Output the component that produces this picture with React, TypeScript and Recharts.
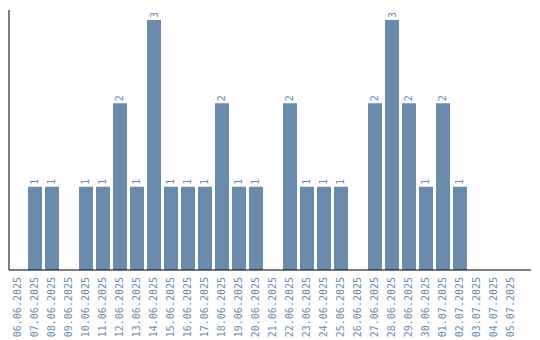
import { BarChart, Bar, XAxis, YAxis, LabelList } from 'recharts';

const dates = [
  '06.06.2025', '07.06.2025', '08.06.2025', '09.06.2025', '10.06.2025', '11.06.2025',
  '12.06.2025', '13.06.2025', '14.06.2025', '15.06.2025', '16.06.2025', '17.06.2025',
  '18.06.2025', '19.06.2025', '20.06.2025', '21.06.2025', '22.06.2025', '23.06.2025',
  '24.06.2025', '25.06.2025', '26.06.2025', '27.06.2025', '28.06.2025', '29.06.2025',
  '30.06.2025', '01.07.2025', '02.07.2025', '03.07.2025', '04.07.2025', '05.07.2025',
];
const counts = [0, 1, 1, 0, 1, 1, 2, 1, 3, 1, 1, 1, 2, 1, 1, 0, 2, 1, 1, 1, 0, 2, 3, 2, 1, 2, 1, 0, 0, 0];

const data = dates.map((date, i) => ({ date, count: counts[i] }));

const BAR = '#6a8bab';
const TEXT = '#6a8cae';
const FONT = '"DejaVu Sans Mono", monospace';

// x ticks: rotated, reading upward, ending just under the axis
const DateTick = (props: any) => {
  const { x, payload } = props;
  const ty = 277;
  return (
    <text
      x={x}
      y={ty}
      dy="0.35em"
      transform={`rotate(-90, ${x}, ${ty})`}
      textAnchor="end"
      fill={TEXT}
      fontSize={10}
      fontFamily={FONT}
    >
      {payload.value}
    </text>
  );
};

const ValueLabel = (props: any) => {
  const { x, y, width, value } = props;
  if (!value) return null;
  const cx = x + width / 2;
  const cy = y - 2;
  return (
    <text
      x={cx}
      y={cy}
      dy="0.35em"
      transform={`rotate(-90, ${cx}, ${cy})`}
      textAnchor="start"
      fill={TEXT}
      fontSize={10}
      fontFamily={FONT}
    >
      {value}
    </text>
  );
};

export default function App() {
  return (
    <div style={{ position: 'absolute', left: 0, top: 0, background: '#fff' }}>
      <BarChart
        width={540}
        height={340}
        data={data}
        margin={{ top: 10, right: 9, left: 8, bottom: 0 }}
        barSize={14}
      >
        <XAxis
          dataKey="date"
          interval={0}
          tickLine={false}
          axisLine={{ stroke: '#000' }}
          tick={<DateTick />}
          padding={{ left: 0, right: 12 }}
          height={70}
        />
        <YAxis
          domain={[0, 3.12]}
          width={1}
          tick={false}
          tickLine={false}
          axisLine={{ stroke: '#000' }}
          allowDataOverflow
        />
        <Bar dataKey="count" fill={BAR} isAnimationActive={false}>
          <LabelList dataKey="count" content={<ValueLabel />} />
        </Bar>
      </BarChart>
    </div>
  );
}
